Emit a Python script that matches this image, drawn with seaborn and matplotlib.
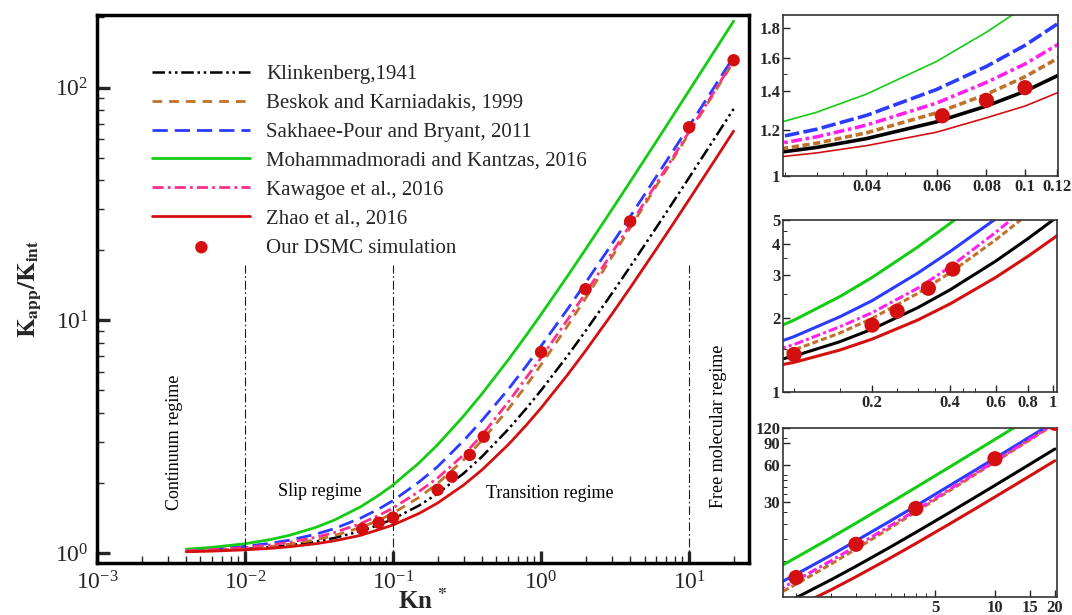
import numpy as np
import pandas as pd
import matplotlib
matplotlib.use("Agg")
import matplotlib.pyplot as plt
import seaborn as sns
from matplotlib.ticker import (LogLocator, LogFormatterMathtext, FixedLocator,
                               FixedFormatter, NullFormatter)

# ---------------- data ----------------
kn = [0.004, 0.006, 0.01, 0.015, 0.02, 0.03, 0.04, 0.06, 0.08, 0.1, 0.15, 0.2,
      0.3, 0.4, 0.6, 0.8, 1.0, 1.5, 2.0, 3.0, 4.0, 6.0, 8.0, 10.0, 15.0, 20.0]

klinkenberg = [1.016, 1.024, 1.04, 1.06, 1.08, 1.12, 1.16, 1.24, 1.32, 1.40, 1.60, 1.80,
               2.20, 2.60, 3.40, 4.20, 5.0, 7.0, 9.0, 13.0, 17.0, 25.0, 33.0, 41.0, 61.0, 81.0]
beskok = [1.017, 1.026, 1.045, 1.068, 1.091, 1.139, 1.187, 1.285, 1.383, 1.483, 1.735, 1.991,
          2.515, 3.05, 4.15, 5.28, 6.44, 9.40, 12.44, 18.64, 24.94, 37.7, 50.6, 63.6, 96.3, 129.2]
sakhaee = [1.027, 1.041, 1.068, 1.102, 1.136, 1.204, 1.272, 1.41, 1.545, 1.68, 2.02, 2.35,
           3.04, 3.72, 5.05, 6.4, 7.75, 11.1, 14.5, 21.2, 27.9, 41.4, 54.8, 68.2, 101.8, 135.5]
mohammad = [1.038, 1.058, 1.096, 1.144, 1.192, 1.288, 1.384, 1.576, 1.77, 1.96, 2.44, 2.92,
            3.88, 4.84, 6.76, 8.68, 10.6, 15.4, 20.2, 29.8, 39.4, 58.6, 77.8, 97.0, 145.0, 193.0]
kawagoe = [1.022, 1.034, 1.056, 1.084, 1.112, 1.168, 1.224, 1.336, 1.45, 1.56, 1.84, 2.10,
           2.64, 3.22, 4.45, 5.7, 6.9, 10.0, 13.1, 19.4, 25.7, 38.6, 51.6, 64.6, 97.5, 131.0]
zhao = [1.013, 1.019, 1.032, 1.048, 1.064, 1.096, 1.128, 1.19, 1.26, 1.32, 1.48, 1.64,
        1.96, 2.28, 2.92, 3.56, 4.2, 5.8, 7.4, 10.6, 13.8, 20.2, 26.6, 33.0, 49.0, 65.0]

dsmc_kn = [0.062, 0.08, 0.1, 0.2, 0.25, 0.33, 0.41, 1.0, 2.0, 4.0, 10.0, 20.0]
dsmc_k = [1.27, 1.35, 1.42, 1.87, 2.13, 2.64, 3.16, 7.3, 13.6, 26.6, 67.5, 131.0]

labels = ["Klinkenberg,1941", "Beskok and Karniadakis, 1999",
          "Sakhaee-Pour and Bryant, 2011", "Mohammadmoradi and Kantzas, 2016",
          "Kawagoe et al., 2016", "Zhao et al., 2016"]
dsmc_label = "Our DSMC simulation"

regime_bounds = [0.01, 0.1, 10.0]

# ---------------- style ----------------
sns.set_theme(style="ticks")
plt.rcParams["font.family"] = ["Liberation Serif", "DejaVu Serif"]
plt.rcParams["mathtext.fontset"] = "stix"
plt.rcParams["axes.facecolor"] = "white"

series = [klinkenberg, beskok, sakhaee, mohammad, kawagoe, zhao]
colors = ["#000000", "#C0722A", "#2B3BFF", "#14CC14", "#FF2E8C", "#D40F0F"]
main_ls = [(0, (5, 1.5, 1, 1.5, 1, 1.5)), (0, (3.5, 2.5)), (0, (5.5, 2.5)), "-",
           (0, (4, 1.5, 1, 1.5)), "-"]
main_lw = [1.8, 2.0, 2.0, 2.0, 2.0, 2.0]

fig = plt.figure(figsize=(10.72, 6.15), dpi=100)
W, H = 1072.0, 615.0
ax = fig.add_axes([97 / W, (H - 563) / H, 652 / W, 548 / H])

for lab, vals, c, ls, lw in zip(labels, series, colors, main_ls, main_lw):
    sns.lineplot(x=kn, y=vals, ax=ax, color=c, linestyle=ls, lw=lw, label=lab,
                 estimator=None, sort=False)
sns.scatterplot(x=dsmc_kn, y=dsmc_k, ax=ax, color="#D40F0F", s=80, edgecolor="none",
                label=dsmc_label, zorder=5)

ax.set_xscale("log")
ax.set_yscale("log")
ax.set_xlim(1e-3, 25.4)
ax.set_ylim(0.906, 205)

ax.vlines(regime_bounds, 0.906, 17.3, colors="k", linestyles=(0, (8, 2.5, 1.5, 2.5)), lw=0.8)

ax.xaxis.set_major_locator(LogLocator(base=10, numticks=10))
ax.yaxis.set_major_locator(LogLocator(base=10, numticks=10))
ax.xaxis.set_minor_locator(LogLocator(base=10, subs=np.arange(2, 10), numticks=50))
ax.yaxis.set_minor_locator(LogLocator(base=10, subs=np.arange(2, 10), numticks=50))
ax.xaxis.set_major_formatter(LogFormatterMathtext())
ax.yaxis.set_major_formatter(LogFormatterMathtext())
ax.xaxis.set_minor_formatter(NullFormatter())
ax.yaxis.set_minor_formatter(NullFormatter())
ax.tick_params(which="major", direction="in", length=9, width=2.4, labelsize=17, pad=6)
ax.tick_params(which="minor", direction="in", length=5, width=1.0)
for s in ax.spines.values():
    s.set_linewidth(2.5)
    s.set_color("black")

ax.set_xlabel(r"Kn $^{\mathbf{*}}$", fontsize=18, fontweight="bold", labelpad=-4)
ax.set_ylabel(r"$\mathbf{K_{app}/K_{int}}$", fontsize=18, labelpad=8)

txt_kw = dict(fontsize=13, color="black")
ax.text(0.00336, 3.0, "Continuum regime", rotation=90, ha="center", va="center", **txt_kw)
ax.text(0.032, 1.83, "Slip regime", ha="center", va="center", **txt_kw)
ax.text(1.15, 1.81, "Transition regime", ha="center", va="center", **txt_kw)
ax.text(15.9, 3.5, "Free molecular regime", rotation=90, ha="center", va="center", **txt_kw)

handles, labs = ax.get_legend_handles_labels()
leg = ax.legend(handles, labs, loc="upper left", bbox_to_anchor=(0.085, 0.91),
                frameon=False, fontsize=15, handlelength=4.7, handletextpad=0.75,
                labelspacing=0.45, borderpad=0, borderaxespad=0, scatterpoints=1)

# ---------------- insets ----------------
inset_specs = [
    dict(rect=[783 / W, (H - 176) / H, 275 / W, 161 / H], xlim=(0.0247, 0.121), ylim=(1.0, 1.895),
         xt=[0.04, 0.06, 0.08, 0.1, 0.12], xl=["0.04", "0.06", "0.08", "0.1", "0.12"],
         yt=[1.0, 1.2, 1.4, 1.6, 1.8], yl=["1", "1.2", "1.4", "1.6", "1.8"],
         ls=["-", (0, (2, 1)), (0, (4, 1.2)), "-", (0, (3, 1, 1, 1)), "-"],
         lw=[2.6, 2.6, 2.6, 1.2, 2.6, 1.2]),
    dict(rect=[783 / W, (H - 392) / H, 274 / W, 172 / H], xlim=(0.0906, 1.036), ylim=(1.0, 5.0),
         xt=[0.2, 0.4, 0.6, 0.8, 1.0], xl=["0.2", "0.4", "0.6", "0.8", "1"],
         yt=[1, 2, 3, 4, 5], yl=["1", "2", "3", "4", "5"],
         ls=["-", (0, (2, 1)), "-", "-", (0, (3, 1, 1, 1)), "-"],
         lw=[2.2, 2.2, 2.2, 2.2, 2.2, 2.2]),
    dict(rect=[783 / W, 18 / H, 274 / W, 169 / H], xlim=(0.86, 20.5), ylim=(5.07, 120),
         xt=[5, 10, 15, 20], xl=["5", "10", "15", "20"],
         yt=[30, 60, 90, 120], yl=["30", "60", "90", "120"],
         ls=["-", (0, (2, 1)), "-", "-", (0, (3, 1, 1, 1)), "-"],
         lw=[2.2, 2.2, 2.2, 2.2, 2.2, 2.2]),
]
inset_colors = ["#000000", "#C0722A", "#2B3BFF", "#14CC14", "#FF22EE", "#D40F0F"]

for spec in inset_specs:
    ia = fig.add_axes(spec["rect"])
    for vals, c, ls, lw in zip(series, inset_colors, spec["ls"], spec["lw"]):
        sns.lineplot(x=kn, y=vals, ax=ia, color=c, linestyle=ls, lw=lw,
                     estimator=None, sort=False, legend=False)
    sns.scatterplot(x=dsmc_kn, y=dsmc_k, ax=ia, color="#D40F0F", s=120,
                    edgecolor="none", zorder=5, legend=False)
    ia.set_xscale("log")
    ia.set_yscale("log")
    ia.set_xlim(*spec["xlim"])
    ia.set_ylim(*spec["ylim"])
    ia.xaxis.set_major_locator(FixedLocator(spec["xt"]))
    ia.xaxis.set_major_formatter(FixedFormatter(spec["xl"]))
    ia.yaxis.set_major_locator(FixedLocator(spec["yt"]))
    ia.yaxis.set_major_formatter(FixedFormatter(spec["yl"]))
    ia.xaxis.set_minor_locator(LogLocator(base=10, subs=np.arange(1, 10) * 0.5, numticks=60))
    ia.yaxis.set_minor_locator(LogLocator(base=10, subs=np.arange(1, 10) * 0.5, numticks=60))
    ia.xaxis.set_minor_formatter(NullFormatter())
    ia.yaxis.set_minor_formatter(NullFormatter())
    ia.tick_params(which="major", direction="in", length=5, width=1.0, labelsize=12, pad=2)
    ia.tick_params(which="minor", direction="in", length=3, width=0.7)
    for t in ia.get_xticklabels() + ia.get_yticklabels():
        t.set_fontweight("bold")
    for s in ia.spines.values():
        s.set_linewidth(1.2)
        s.set_color("#333333")
    ia.set_xlabel("")
    ia.set_ylabel("")

fig.savefig("out.png", dpi=100)
